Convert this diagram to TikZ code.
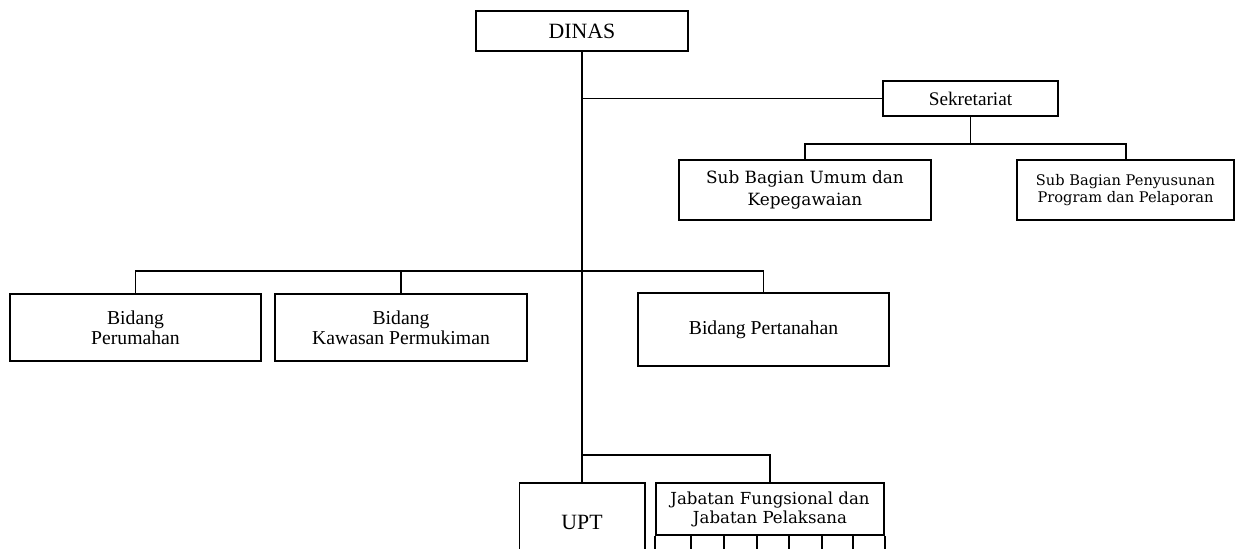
\documentclass[tikz,border=0pt]{standalone}
\usepackage{fontspec}
\setmainfont{Liberation Serif}
\newfontfamily\lebar{DejaVu Serif}
\usetikzlibrary{positioning,calc}

\tikzset{
	kotak/.style={draw, line width=1.4pt, align=center, inner sep=0pt},
	garis/.style={line width=1.4pt}
}

\begin{document}
\begin{tikzpicture}[x=0.025cm, y=-0.025cm]
	\useasboundingbox (0,0) rectangle (1242,548);
	\clip (0,0) rectangle (1242,548);
	
	% Pimpinan
	\node[kotak, minimum width=5.3cm, minimum height=1cm, font=\fontsize{15.5}{18}\selectfont] (dinas) at (582,31) {DINAS};
	
	% Sekretariat
	\node[kotak, minimum width=4.375cm, minimum height=0.875cm, font=\fontsize{13.7}{16}\selectfont] (sekre) at (970.5,98.5) {Sekretariat};
	\node[kotak, minimum width=6.3cm, minimum height=1.5cm, font=\lebar\fontsize{12}{15}\selectfont] (umum) at (805,190) {Sub Bagian Umum dan\\Kepegawaian};
	\node[kotak, minimum width=5.425cm, minimum height=1.5cm, font=\lebar\fontsize{10.4}{12}\selectfont] (prog) at (1125.5,190) {Sub Bagian Penyusunan\\Program dan Pelaporan};
	
	% Bidang
	\node[kotak, minimum width=6.275cm, minimum height=1.675cm, font=\fontsize{14}{14.5}\selectfont] (perum) at (135.5,327.5) {Bidang\\Perumahan};
	\node[kotak, minimum width=6.3cm, minimum height=1.675cm, font=\fontsize{14}{14.5}\selectfont] (kawasan) at (401,327.5) {Bidang\\Kawasan Permukiman};
	\node[kotak, minimum width=6.275cm, minimum height=1.825cm, font=\fontsize{14}{14.5}\selectfont] (tanah) at (763.5,329.5) {Bidang Pertanahan};
	
	% UPT dan jabatan
	\node[kotak, minimum width=3.125cm, minimum height=1.95cm, font=\fontsize{15.5}{18}\selectfont] (upt) at (582,522) {UPT};
	\node[kotak, minimum width=5.7cm, minimum height=1.3cm, font=\lebar\fontsize{11.8}{13.5}\selectfont] (jab) at (770,509) {Jabatan Fungsional dan\\Jabatan Pelaksana};
	\draw[garis] (jab.south west) -- ++(0,40);
	\draw[garis] (jab.south east) -- ++(0,40);
	\foreach \x in {691,724,757,789,822,853}
	\draw[garis] (\x,535) -- (\x,575);
	
	% garis
	\coordinate (bidbar) at (582,271);
	\coordinate (bawah) at (582,455);
	\draw[garis] (dinas.south) -- (upt.north);
	\draw[garis] (dinas.south |- sekre.west) -- (sekre.west);
	\draw[garis] (sekre.south) -- ++(0,27) coordinate (sekbar);
	\draw[garis] (umum.north) |- (sekbar) -| (prog.north);
	\draw[garis] (perum.north) |- (tanah.north |- bidbar) -- (tanah.north);
	\draw[garis] (kawasan.north) -- (kawasan.north |- bidbar);
	\draw[garis] (bawah) -| (jab.north);
\end{tikzpicture}
\end{document}
